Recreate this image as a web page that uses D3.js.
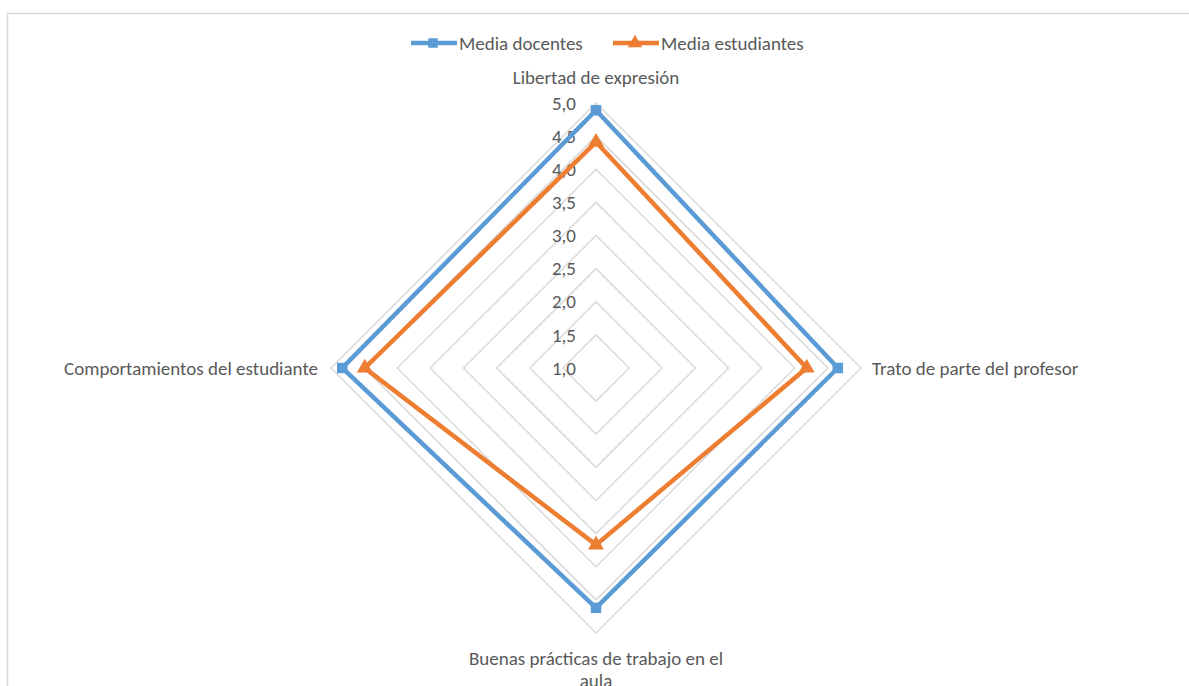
<!DOCTYPE html>
<html>
<head>
<meta charset="utf-8">
<script src="https://cdn.jsdelivr.net/npm/d3@7"></script>
<style>
  body { margin: 0; background: #fff; }
  svg { display: block; }
</style>
</head>
<body>
<div id="wrapper"></div>
<script>
// datos
var categories = ["Libertad de expresión", "Trato de parte del profesor", "Buenas prácticas de trabajo en el aula", "Comportamientos del estudiante"];
var docentes = [4.89, 4.65, 4.62, 4.83];
var estudiantes = [4.41, 4.18, 3.67, 4.49];
var seriesNames = ["Media docentes", "Media estudiantes"];
var ticks = [1.0, 1.5, 2.0, 2.5, 3.0, 3.5, 4.0, 4.5, 5.0];

var width = 1189, height = 686;
var cx = 596, cy = 368, radius = 265;
var blue = "#5B9BD5", orange = "#ED7D31";
var font = "Carlito, Lato, 'Open Sans', sans-serif";
var fs = '19px';

const svg = d3.select('#wrapper').append('svg')
  .attr('width', width)
  .attr('height', height)
  .style('font-family', font);

// marco
svg.append('path')
  .attr('d', `M7.5,${height} V13.5 H${width}`)
  .attr('fill', 'none')
  .attr('stroke', '#d9d9d9')
  .attr('stroke-width', 1.5);

var r = d3.scaleLinear().domain([1, 5]).range([0, radius]);
var angle = i => i / categories.length * 2 * Math.PI;
function pt(i, v) {
  var a = angle(i);
  return [cx + Math.sin(a) * r(v), cy - Math.cos(a) * r(v)];
}

const g = svg.append('g');

// rejilla
g.selectAll('path.grid')
  .data(ticks.slice(1))
  .join('path')
  .attr('class', 'grid')
  .attr('d', t => d3.line()(categories.map((c, i) => pt(i, t))) + 'Z')
  .attr('fill', 'none')
  .attr('stroke', '#d9d9d9')
  .attr('stroke-width', 1.5);

// etiquetas del eje
g.selectAll('text.tick')
  .data(ticks)
  .join('text')
  .attr('class', 'tick')
  .attr('x', cx - 20)
  .attr('y', t => cy - r(t))
  .attr('dy', '0.35em')
  .attr('text-anchor', 'end')
  .attr('fill', '#595959')
  .style('font-size', fs)
  .text(t => d3.format('.1f')(t).replace('.', ','));

// categorias
var catPos = [
  { x: cx, y: 77, anchor: 'middle' },
  { x: 872, y: 368, anchor: 'start' },
  { x: cx, y: 658, anchor: 'middle' },
  { x: 318, y: 368, anchor: 'end' }
];
categories.forEach((c, i) => {
  var p = catPos[i];
  var t = g.append('text')
    .attr('x', p.x).attr('y', p.y)
    .attr('text-anchor', p.anchor)
    .attr('fill', '#595959')
    .style('font-size', fs);
  var lines = i === 2 ? ["Buenas prácticas de trabajo en el", "aula"] : [c];
  lines.forEach((l, k) => {
    t.append('tspan').attr('x', p.x).attr('dy', k === 0 ? '0.35em' : '1.15em').text(l);
  });
});

// series
var series = [
  { name: seriesNames[0], values: docentes, color: blue, symbol: d3.symbolSquare },
  { name: seriesNames[1], values: estudiantes, color: orange, symbol: d3.symbolTriangle }
];
series.forEach(s => {
  var pts = s.values.map((v, i) => pt(i, v));
  g.append('path')
    .attr('d', d3.line()(pts) + 'Z')
    .attr('fill', 'none')
    .attr('stroke', s.color)
    .attr('stroke-width', 4.5)
    .attr('stroke-linejoin', 'miter');
  g.selectAll(null)
    .data(pts)
    .join('path')
    .attr('transform', d => `translate(${d[0]},${d[1]})`)
    .attr('d', d3.symbol().type(s.symbol).size(110))
    .attr('fill', s.color);
});

// leyenda
var legX = [411, 613];
series.forEach((s, i) => {
  var lg = svg.append('g').attr('transform', `translate(${legX[i]},43)`);
  lg.append('line').attr('x1', 0).attr('x2', 46).attr('stroke', s.color).attr('stroke-width', 4.5);
  lg.append('path').attr('transform', 'translate(22,0)')
    .attr('d', d3.symbol().type(s.symbol).size(90)).attr('fill', s.color);
  lg.append('text').attr('x', 48).attr('dy', '0.35em')
    .attr('fill', '#595959').style('font-size', fs).text(s.name);
});
</script>
</body>
</html>
